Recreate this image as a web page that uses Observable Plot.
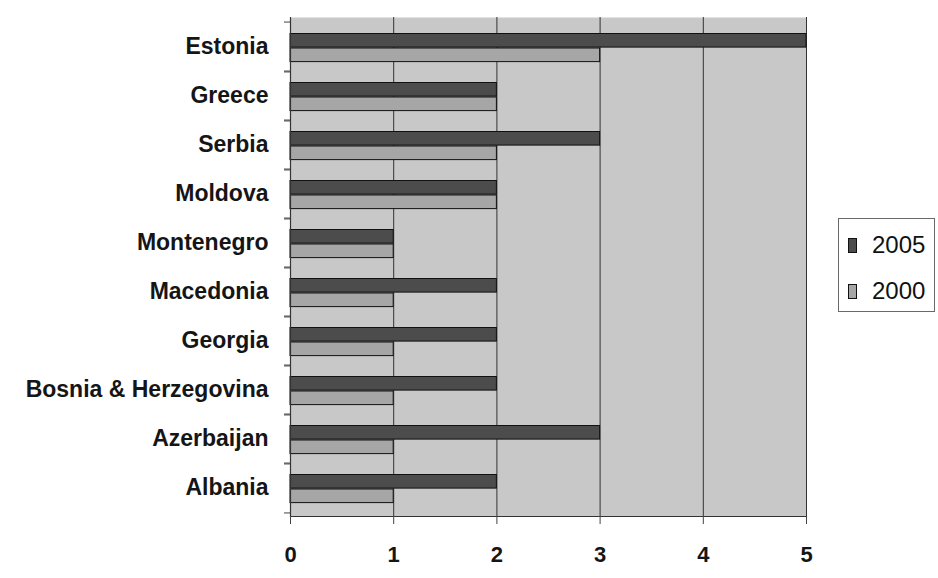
<!DOCTYPE html>
<html>
<head>
<meta charset="utf-8">
<script src="https://cdn.jsdelivr.net/npm/d3@7"></script>
<script src="https://cdn.jsdelivr.net/npm/@observablehq/plot@0.6"></script>
<style>
  html, body { margin: 0; padding: 0; background: #ffffff; }
  #wrap { position: relative; width: 938px; height: 578px; font-family: "Liberation Sans", Arial, sans-serif; }
  #legend {
    position: absolute; left: 838px; top: 218px; width: 97px; height: 94px;
    border: 1px solid #6a6a6a; background: #ffffff; box-sizing: border-box;
    font-size: 24px; color: #111;
  }
  #legend .item { position: absolute; left: 9px; display: flex; align-items: center; }
  #legend .sw { width: 9px; height: 15px; border: 1px solid #111; margin-right: 15px; box-sizing: border-box; }
</style>
</head>
<body>
<div id="wrap">
  <div id="chart"></div>
  <div id="legend"></div>
</div>
<script>
// Countries, top to bottom
const countries = ["Estonia", "Greece", "Serbia", "Moldova", "Montenegro", "Macedonia",
                   "Georgia", "Bosnia & Herzegovina", "Azerbaijan", "Albania"];
// Scores per year
const values2005 = [5, 2, 3, 2, 1, 2, 2, 2, 3, 2];
const values2000 = [3, 2, 2, 2, 1, 1, 1, 1, 1, 1];
const years = ["2005", "2000"];
const xTicks = [0, 1, 2, 3, 4, 5];

const yearColors = {"2005": "#4c4c4c", "2000": "#a6a6a6"};

const rows2005 = countries.map((c, i) => ({country: c, year: "2005", value: values2005[i]}));
const rows2000 = countries.map((c, i) => ({country: c, year: "2000", value: values2000[i]}));

const W = 938, H = 578;
const mTop = 17, mBottom = 62, mLeft = 290, mRight = 132;
const band = (H - mTop - mBottom) / countries.length;
const barH = 14.5;
const padTop = 11.5;

const chart = Plot.plot({
  width: W,
  height: H,
  marginTop: mTop,
  marginBottom: mBottom,
  marginLeft: mLeft,
  marginRight: mRight,
  style: {fontFamily: "'Liberation Sans', Arial, sans-serif", color: "#111", background: "transparent"},
  x: {domain: [0, 5], label: null},
  y: {domain: countries, padding: 0, label: null},
  marks: [
    Plot.frame({fill: "#c8c8c8", stroke: null}),
    Plot.gridX(xTicks.slice(1), {stroke: "#333", strokeOpacity: 1, strokeWidth: 1}),
    Plot.barX(rows2005, {x: "value", y: "country", fill: yearColors["2005"], stroke: "#111", strokeWidth: 1,
      insetTop: padTop, insetBottom: band - padTop - barH}),
    Plot.barX(rows2000, {x: "value", y: "country", fill: yearColors["2000"], stroke: "#111", strokeWidth: 1,
      insetTop: padTop + barH, insetBottom: band - padTop - 2 * barH}),
    Plot.ruleX([0], {stroke: "#333", strokeWidth: 1.2}),
    Plot.frame({anchor: "bottom", stroke: "#333", strokeWidth: 1.2}),
    // category boundary ticks on the value axis
    Plot.axisY({tickSize: 6, text: null, label: null, dy: -band / 2, stroke: "#444"}),
    Plot.axisY({tickSize: 6, text: null, label: null, dy: band / 2, stroke: "#444"}),
    Plot.axisY({tickSize: 0, tickPadding: 22, label: null, fontSize: 23, fontWeight: "bold", fill: "#151515"}),
    Plot.axisX({ticks: xTicks, tickSize: 8, tickPadding: 22, label: null, fontSize: 22, fontWeight: "bold",
      fill: "#151515", stroke: "#444", tickFormat: d3.format("d")})
  ]
});
document.getElementById("chart").appendChild(chart);

// Legend
const legend = document.getElementById("legend");
years.forEach((y, i) => {
  const item = document.createElement("div");
  item.className = "item";
  item.style.top = (12 + i * 46) + "px";
  const sw = document.createElement("span");
  sw.className = "sw";
  sw.style.background = yearColors[y];
  const label = document.createElement("span");
  label.textContent = y;
  item.appendChild(sw);
  item.appendChild(label);
  legend.appendChild(item);
});
</script>
</body>
</html>
